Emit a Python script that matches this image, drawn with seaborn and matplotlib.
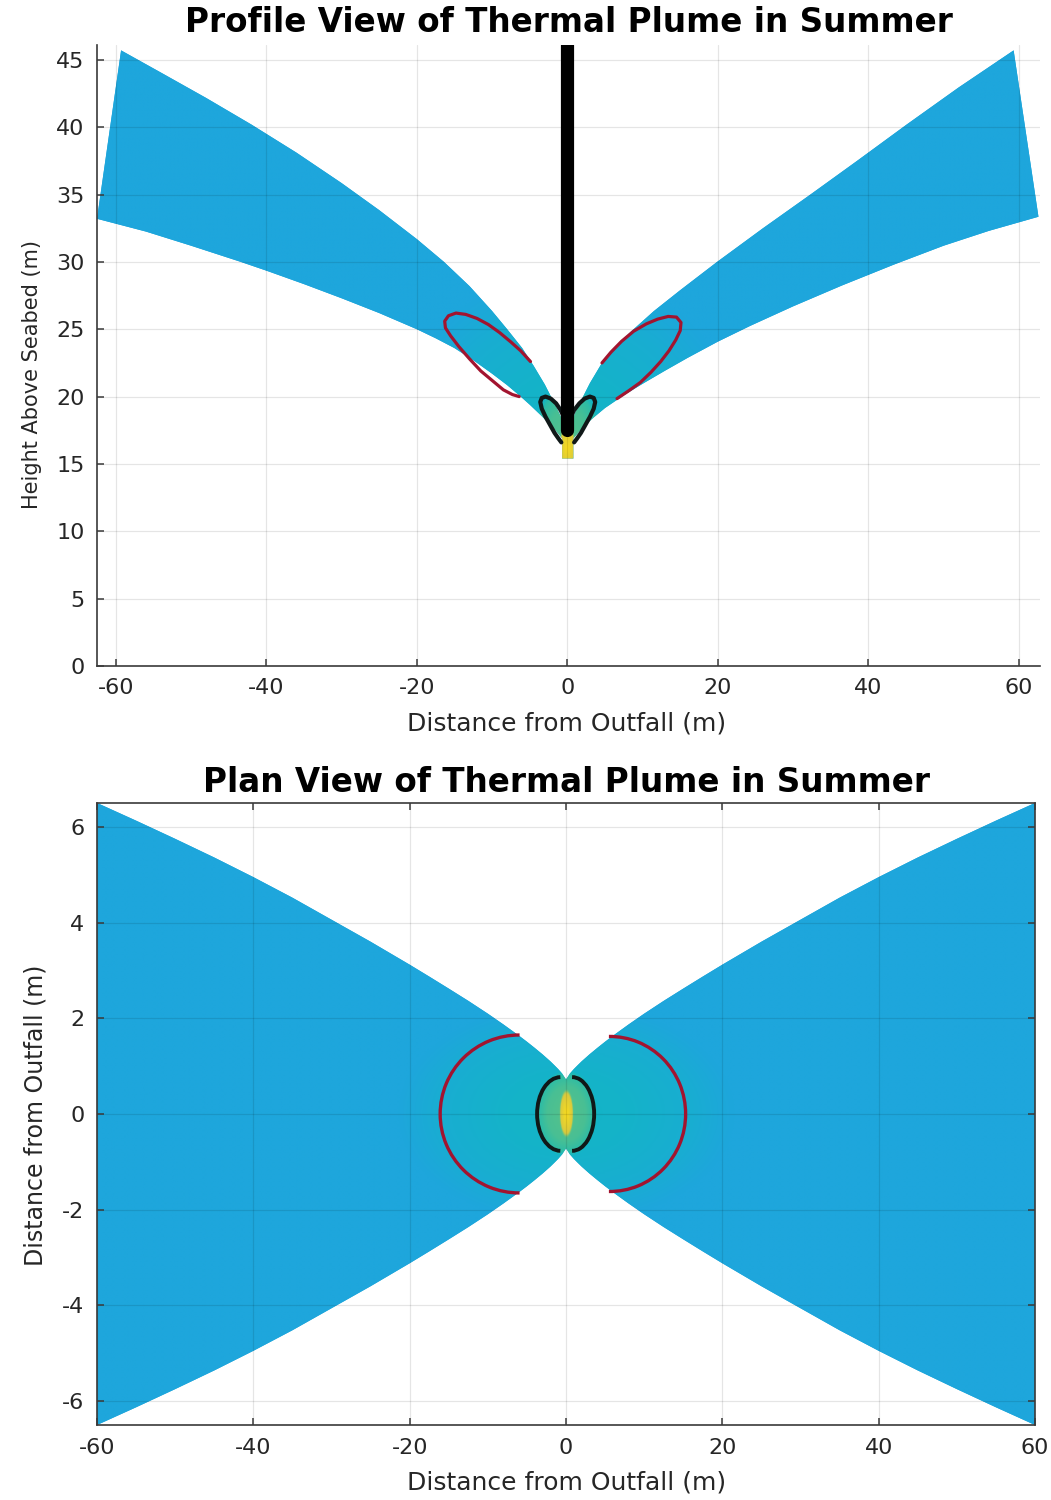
import numpy as np
import matplotlib
matplotlib.use("Agg")
import matplotlib.pyplot as plt
import seaborn as sns
import pandas as pd
from matplotlib.colors import LinearSegmentedColormap
from matplotlib.patches import Polygon, Arc

# ---------------- data ----------------
# Profile view: plume boundaries (x = distance from outfall, y = height above seabed)
prof_left_upper_x = [-0.3, -0.7, -1.2, -2.0, -3.0, -4.5, -6.0, -8.0, -10.0, -13.0, -16.4, -20.0, -25.0, -30.0, -36.0, -42.0, -48.0, -54.0, -59.3]
prof_left_upper_y = [17.7, 18.3, 18.9, 19.8, 20.9, 22.3, 23.6, 25.0, 26.35, 28.2, 30.0, 31.69, 33.84, 35.85, 38.11, 40.2, 42.17, 44.05, 45.7]
prof_left_lower_x = [-0.7, -1.5, -2.5, -3.5, -5.0, -6.2, -8.0, -10.0, -12.5, -15.0, -17.5, -20.0, -25.0, -30.0, -35.0, -40.0, -43.4, -50.0, -56.0, -62.5]
prof_left_lower_y = [16.9, 17.45, 18.05, 18.6, 19.4, 20.0, 20.85, 21.7, 22.7, 23.6, 24.33, 25.0, 26.2, 27.3, 28.35, 29.35, 30.0, 31.2, 32.25, 33.2]
prof_right_upper_x = [0.3, 0.7, 1.2, 2.0, 3.0, 4.6, 6.5, 8.6, 11.5, 15.0, 19.9, 26.0, 32.3, 38.5, 45.1, 52.0, 59.3]
prof_right_upper_y = [17.7, 18.3, 19.0, 19.9, 21.0, 22.5, 23.75, 24.9, 26.35, 27.9, 30.0, 32.5, 35.0, 37.5, 40.2, 42.95, 45.7]
prof_right_lower_x = [0.8, 1.5, 2.5, 3.5, 5.0, 7.5, 10.0, 13.0, 16.0, 20.0, 24.3, 30.0, 36.5, 43.4, 50.0, 56.0, 62.6]
prof_right_lower_y = [16.9, 17.35, 17.95, 18.45, 19.15, 20.1, 20.95, 21.93, 22.88, 24.08, 25.25, 26.7, 28.25, 29.8, 31.2, 32.3, 33.35]
stem_x = [-0.7, 0.8]
stem_bottom_y = 15.4

# Profile view: contour lines
prof_red_left_x = [-4.9, -6.2, -7.5, -9.0, -10.5, -12.0, -13.5, -14.8, -15.8, -16.3, -16.2, -15.5, -14.4, -13.0, -11.5, -10.0, -8.5, -7.3, -6.4]
prof_red_left_y = [22.6, 23.4, 24.05, 24.75, 25.35, 25.8, 26.1, 26.2, 26.0, 25.6, 25.1, 24.5, 23.7, 22.8, 21.9, 21.2, 20.5, 20.15, 20.0]
prof_red_right_x = [4.6, 5.8, 7.2, 8.8, 10.5, 12.0, 13.4, 14.5, 15.1, 15.0, 14.4, 13.5, 12.4, 11.1, 9.7, 8.2, 6.6]
prof_red_right_y = [22.5, 23.3, 24.1, 24.85, 25.4, 25.75, 25.95, 25.9, 25.5, 24.9, 24.2, 23.4, 22.6, 21.8, 21.05, 20.45, 19.85]
prof_black_left_x = [-0.3, -0.9, -1.5, -2.2, -2.9, -3.4, -3.6, -3.4, -2.9, -2.3, -1.7, -1.2, -0.8]
prof_black_left_y = [18.3, 19.0, 19.5, 19.85, 20.0, 19.9, 19.6, 19.1, 18.5, 17.9, 17.3, 16.9, 16.6]
prof_black_right_x = [0.3, 0.9, 1.6, 2.3, 3.0, 3.5, 3.7, 3.5, 3.0, 2.4, 1.8, 1.3, 0.9]
prof_black_right_y = [18.3, 19.0, 19.5, 19.85, 20.0, 19.9, 19.6, 19.1, 18.5, 17.9, 17.3, 16.9, 16.6]
diffuser_x = [0.0, 0.0]
diffuser_y = [17.5, 46.1]

# Plan view: half-width of plume vs distance (symmetric)
plan_edge_x = [0, 0.5, 1, 1.5, 2, 3, 4, 5, 6, 8, 10, 12.5, 15, 17.5, 20, 25, 30, 35, 40, 45, 50, 55, 60]
plan_edge_y = [0.72, 0.845, 0.938, 1.02, 1.10, 1.245, 1.38, 1.51, 1.634, 1.87, 2.096, 2.364, 2.62, 2.872,
               3.12, 3.6, 4.06, 4.52, 4.95, 5.36, 5.75, 6.13, 6.5]
# Plan view contour arcs: centre x, half-length (x), half-width (y), start/end angle
plan_red_cx = [-6.0, 5.6]
plan_red_rx = [10.1, 9.7]
plan_red_ry = [1.65, 1.62]
plan_red_t1 = [88, -94]
plan_red_t2 = [272, 94]
plan_blk_cx = [-0.7, 0.8]
plan_blk_rx = [3.0, 2.8]
plan_blk_ry = [0.77, 0.77]
plan_blk_t1 = [92, -92]
plan_blk_t2 = [268, 92]

# axis settings
prof_xlim = [-62.5, 62.8]
prof_ylim = [0, 46.1]
plan_xlim = [-60, 60]
plan_ylim = [-6.5, 6.5]
prof_yticks = [0, 5, 10, 15, 20, 25, 30, 35, 40, 45]
plan_yticks = [-6, -4, -2, 0, 2, 4, 6]
xticks = [-60, -40, -20, 0, 20, 40, 60]

# shading anchors (relative temperature excess vs normalised distance)
core_d = [0.0, 1.0, 1.6]
core_v = [1.0, 0.85, 0.0]
mid_d = [0.0, 0.7, 1.0, 1.35]
mid_v = [0.6, 0.55, 0.45, 0.0]
far_d = [0.0, 0.5, 1.0, 1.35]
far_v = [0.30, 0.26, 0.16, 0.0]

# ---------------- style ----------------
sns.set_theme(style="whitegrid")
plt.rcParams['font.family'] = ['DejaVu Sans']
plt.rcParams['axes.unicode_minus'] = False
AX_COL = '#3a3a3a'
TXT_COL = '#262626'
PLUME = '#1EA6DC'

cmap = LinearSegmentedColormap.from_list(
    'plume', [(0.0, PLUME), (0.15, '#19ADD2'), (0.3, '#13B5C6'), (0.45, '#2DBCA6'),
              (0.62, '#5CC287'), (0.85, '#D8CA3E'), (1.0, '#FADC1E')])

fig = plt.figure(figsize=(10.51, 15.0), dpi=100)
ax1 = fig.add_axes([0.0923, 0.556, 0.8972, 0.414])
ax2 = fig.add_axes([0.0923, 0.05, 0.8925, 0.4147])


def style_axes(ax, box):
    ax.set_facecolor('white')
    ax.grid(True, color='#000000', alpha=0.1, lw=0.9)
    ax.set_axisbelow(False)
    for s in ['left', 'bottom', 'top', 'right']:
        ax.spines[s].set_color(AX_COL)
        ax.spines[s].set_linewidth(1.2)
        ax.spines[s].set_zorder(10)
    if not box:
        ax.spines['top'].set_visible(False)
        ax.spines['right'].set_visible(False)
    ax.tick_params(direction='in', length=5, width=1.1, color=AX_COL,
                   labelsize=16, labelcolor=TXT_COL, pad=9,
                   top=box, right=box, bottom=True, left=True)


def shade(da, db, dc):
    return np.maximum.reduce([np.interp(da, core_d, core_v),
                              np.interp(db, mid_d, mid_v),
                              np.interp(dc, far_d, far_v)])


# ---------------- profile view ----------------
poly1 = ([(stem_x[0], stem_bottom_y)]
         + list(zip(prof_left_lower_x, prof_left_lower_y))
         + list(zip(prof_left_upper_x[::-1], prof_left_upper_y[::-1]))
         + list(zip(prof_right_upper_x, prof_right_upper_y))
         + list(zip(prof_right_lower_x[::-1], prof_right_lower_y[::-1]))
         + [(stem_x[1], stem_bottom_y)])
patch1 = Polygon(poly1, closed=True, facecolor=PLUME, edgecolor='none', zorder=1)
ax1.add_patch(patch1)

gx = np.linspace(-63, 63, 900)
gy = np.linspace(15, 46.5, 500)
GX, GY = np.meshgrid(gx, gy)
V1 = shade(np.sqrt((GX / 0.9) ** 2 + ((GY - 16.2) / 1.4) ** 2),
           np.sqrt((GX / 4.2) ** 2 + ((GY - 16.0) / 4.5) ** 2),
           np.sqrt((GX / 17.0) ** 2 + ((GY - 17.0) / 9.0) ** 2))
im1 = ax1.imshow(V1, extent=[gx[0], gx[-1], gy[0], gy[-1]], origin='lower', cmap=cmap,
                 vmin=0, vmax=1, aspect='auto', interpolation='bilinear', zorder=2)
im1.set_clip_path(patch1)

for xs, ys in [(prof_red_left_x, prof_red_left_y), (prof_red_right_x, prof_red_right_y)]:
    sns.lineplot(x=xs, y=ys, sort=False, estimator=None, color='#A2142F', lw=2.3, ax=ax1, zorder=4)
for xs, ys in [(prof_black_left_x, prof_black_left_y), (prof_black_right_x, prof_black_right_y)]:
    sns.lineplot(x=xs, y=ys, sort=False, estimator=None, color='#101818', lw=3.0, ax=ax1, zorder=4)
sns.lineplot(x=diffuser_x, y=diffuser_y, sort=False, estimator=None, color='black', lw=9.5,
             ax=ax1, zorder=5)

ax1.set_xlim(prof_xlim)
ax1.set_ylim(prof_ylim)
ax1.set_xticks(xticks)
ax1.set_yticks(prof_yticks)
style_axes(ax1, box=False)
ax1.set_title('Profile View of Thermal Plume in Summer', fontsize=23.5, fontweight='bold',
              color='black', pad=9)
ax1.set_xlabel('Distance from Outfall (m)', fontsize=18, color=TXT_COL)
ax1.set_ylabel('Height Above Seabed (m)', fontsize=15, color=TXT_COL)
ax1.xaxis.set_label_coords(0.498, -0.073)
ax1.yaxis.set_label_coords(-0.058, 0.469)

# ---------------- plan view ----------------
ex = np.array(plan_edge_x, dtype=float)
ey = np.array(plan_edge_y, dtype=float)
upper = list(zip(-ex[::-1], ey[::-1])) + list(zip(ex[1:], ey[1:]))
lower = [(x, -y) for (x, y) in upper[::-1]]
patch2 = Polygon(upper + lower, closed=True, facecolor=PLUME, edgecolor='none', zorder=1)
ax2.add_patch(patch2)

hx = np.linspace(-60, 60, 1000)
hy = np.linspace(-6.6, 6.6, 500)
HX, HY = np.meshgrid(hx, hy)
V2 = shade(np.sqrt((HX / 0.75) ** 2 + (HY / 0.42) ** 2),
           np.sqrt((HX / 3.5) ** 2 + (HY / 0.8) ** 2),
           np.sqrt((HX / 16.0) ** 2 + (HY / 1.7) ** 2))
im2 = ax2.imshow(V2, extent=[hx[0], hx[-1], hy[0], hy[-1]], origin='lower', cmap=cmap,
                 vmin=0, vmax=1, aspect='auto', interpolation='bilinear', zorder=2)
im2.set_clip_path(patch2)

for cx, rx, ry, t1, t2 in zip(plan_red_cx, plan_red_rx, plan_red_ry, plan_red_t1, plan_red_t2):
    ax2.add_patch(Arc((cx, 0), 2 * rx, 2 * ry, theta1=t1, theta2=t2, color='#A2142F', lw=2.4, zorder=4))
for cx, rx, ry, t1, t2 in zip(plan_blk_cx, plan_blk_rx, plan_blk_ry, plan_blk_t1, plan_blk_t2):
    ax2.add_patch(Arc((cx, 0), 2 * rx, 2 * ry, theta1=t1, theta2=t2, color='#101818', lw=2.8, zorder=4))

ax2.set_xlim(plan_xlim)
ax2.set_ylim(plan_ylim)
ax2.set_xticks(xticks)
ax2.set_yticks(plan_yticks)
style_axes(ax2, box=True)
ax2.set_title('Plan View of Thermal Plume in Summer', fontsize=23.5, fontweight='bold',
              color='black', pad=8)
ax2.set_xlabel('Distance from Outfall (m)', fontsize=18, color=TXT_COL)
ax2.set_ylabel('Distance from Outfall (m)', fontsize=17, color=TXT_COL)
ax2.xaxis.set_label_coords(0.501, -0.073)
ax2.yaxis.set_label_coords(-0.053, 0.498)

fig.savefig('out.png', dpi=100, facecolor='white')
